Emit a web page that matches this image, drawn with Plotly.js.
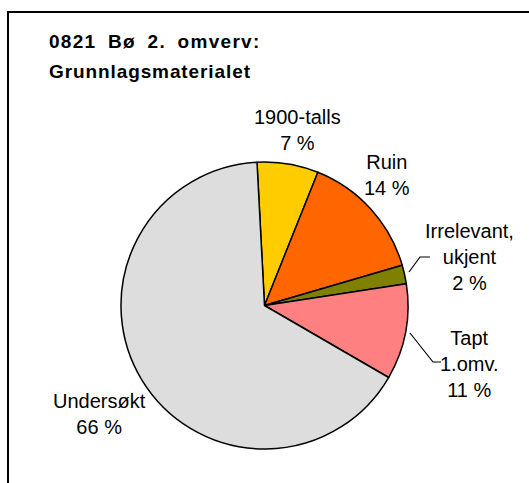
<!DOCTYPE html>
<html>
<head>
<meta charset="utf-8">
<script src="https://cdn.plot.ly/plotly-3.0.1.min.js"></script>
<style>
  body { margin: 0; background: #fff; overflow: hidden; }
  #frame { position: absolute; left: 7px; top: 11px; width: 600px; height: 600px; border: 2px solid #000; }
  #chart { position: absolute; left: 0; top: 0; width: 529px; height: 483px; }
</style>
</head>
<body>
<div id="frame"></div>
<div id="chart"></div>
<script>
// Grunnlagsmaterialet, 0821 Bø 2. omverv
var categories = ["1900-talls", "Ruin", "Irrelevant,<br>ukjent", "Tapt<br>1.omv.", "Undersøkt"];
var shares = [6.9, 14.4, 2.1, 10.8, 65.8];
var sliceColors = ["#FFCC00", "#FF6600", "#808000", "#FF8080", "#DDDDDD"];

var total = shares.reduce((a, b) => a + b, 0);
var pctText = shares.map(v => Math.round(v / total * 100) + " %");

// label centres (pixels) for each category, Excel-style placement
var labelX = [297, 387, 469, 469, 99];
var labelY = [130, 175, 257, 364, 414];

var W = 529, H = 483;
var M = {l: 121, r: 121, t: 162, b: 34};
var pw = W - M.l - M.r, ph = H - M.t - M.b;
function px(x) { return (x - M.l) / pw; }
function py(y) { return 1 - (y - M.t) / ph; }

var font = "Liberation Sans, Arial, sans-serif";

var trace = {
  type: "pie",
  labels: categories,
  values: shares,
  sort: false,
  direction: "clockwise",
  rotation: -3,
  textinfo: "none",
  marker: {colors: sliceColors, line: {color: "#000", width: 1.5}},
  hoverinfo: "none"
};

var annotations = categories.map((c, i) => ({
  text: c + "<br>" + pctText[i],
  xref: "paper", yref: "paper",
  x: px(labelX[i]), y: py(labelY[i]),
  xanchor: "center", yanchor: "middle",
  showarrow: false,
  font: {family: font, size: 20, color: "#000"}
}));

// title, two lines with Excel's loose spacing
annotations.push({
  text: '<b><span style="letter-spacing:1.3px;word-spacing:5px">0821 Bø 2. omverv:</span></b>',
  xref: "paper", yref: "paper", x: px(47), y: py(41),
  xanchor: "left", yanchor: "middle", showarrow: false,
  font: {family: font, size: 19, color: "#000"}
});
annotations.push({
  text: '<b><span style="letter-spacing:0.9px">Grunnlagsmaterialet</span></b>',
  xref: "paper", yref: "paper", x: px(47), y: py(72),
  xanchor: "left", yanchor: "middle", showarrow: false,
  font: {family: font, size: 19, color: "#000"}
});

// leader lines for the two small slices on the right
var leaders = [
  [[409, 272], [420, 257], [430, 257]],
  [[410, 333], [433, 362], [441, 362]]
];
var shapes = leaders.map(pts => ({
  type: "path", xref: "paper", yref: "paper",
  path: pts.map((p, k) => (k ? "L" : "M") + px(p[0]) + "," + py(p[1])).join(" "),
  line: {color: "#000", width: 1.2}
}));

var layout = {
  width: W,
  height: H,
  margin: M,
  paper_bgcolor: "rgba(0,0,0,0)",
  showlegend: false,
  annotations: annotations,
  shapes: shapes
};

Plotly.newPlot("chart", [trace], layout, {staticPlot: true});
</script>
</body>
</html>
